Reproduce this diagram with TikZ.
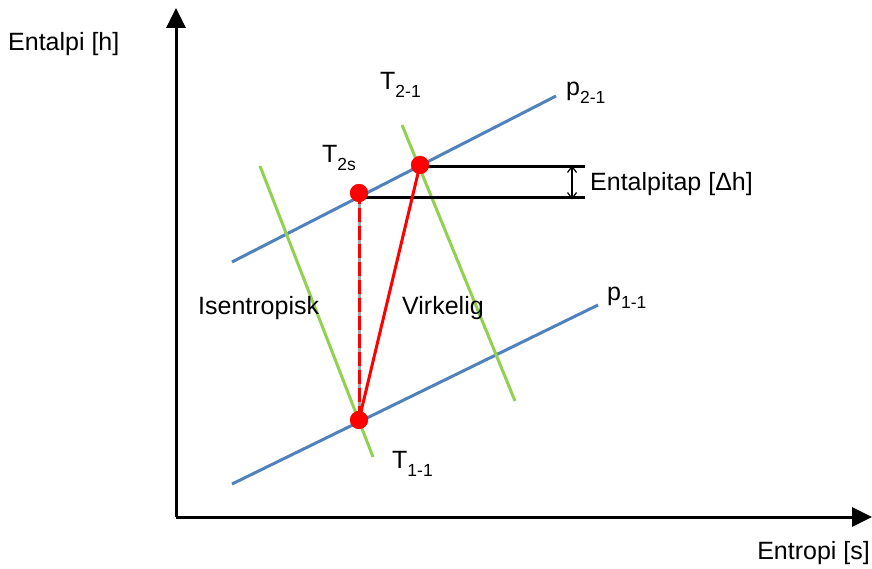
\documentclass[tikz,border=0pt]{standalone}
\usepackage{fontspec}
\setmainfont{Liberation Sans}
\usetikzlibrary{arrows.meta}
\definecolor{pblue}{RGB}{79,129,189}
\definecolor{tgreen}{RGB}{146,208,80}
\tikzset{
  lbl/.style={font=\fontsize{25}{29}\selectfont, inner sep=0pt},
  isobar/.style={draw=pblue, line width=3pt},
  isoterm/.style={draw=tgreen, line width=3pt},
  axis/.style={draw=black, line width=3pt, -{Triangle[length=20pt,width=19pt]}},
  level/.style={draw=black, line width=3pt},
  proc/.style={draw=red, line width=3pt},
  dot/.style={circle, fill=red, minimum size=18pt, inner sep=0pt},
}
\newcommand{\sub}[1]{\raisebox{-0.32em}{\fontsize{17.5}{17.5}\selectfont #1}}
\begin{document}
\begin{tikzpicture}[x=1pt,y=-1pt]
\useasboundingbox (0,0) rectangle (872,569);
% axes
\coordinate (O) at (176,517);
\coordinate (ytop) at (176,8);
\coordinate (xend) at (872,517);
\draw[axis] (O) -- (ytop);
\draw[axis] (O) -- (xend);
% isobars
\coordinate (p2a) at (232,262);
\coordinate (p2b) at (556,96);
\coordinate (p1a) at (232,484);
\coordinate (p1b) at (598,305);
\draw[isobar] (p2a) -- (p2b);
\draw[isobar] (p1a) -- (p1b);
% isotherms
\coordinate (t1a) at (260,166);
\coordinate (t1b) at (373,457);
\coordinate (t2a) at (402,125);
\coordinate (t2b) at (515,401);
\draw[isoterm] (t1a) -- (t1b);
\draw[isoterm] (t2a) -- (t2b);
% points
\node[dot] (A) at (359,420) {};
\node[dot] (S) at (359,193) {};
\node[dot] (R) at (420,165) {};
% enthalpy levels
\coordinate (Rend) at (585,167);
\coordinate (Send) at (585,198);
\draw[level] (R.center) ++(0,2) -- (Rend);
\draw[level] (359,198) -- (Send);
\coordinate (dA) at (572,167);
\coordinate (dB) at (572,198);
\draw[line width=1.2pt, {Straight Barb[length=6pt,width=9pt]}-{Straight Barb[length=6pt,width=9pt]}] ([yshift=1.5pt]dA) -- ([yshift=-1.5pt]dB);
% processes
\draw[draw=gray!70, line width=3pt] (A.center) -- (S.center);
\draw[proc, dash pattern=on 14pt off 4pt] (A.center) -- (S.center);
\draw[proc] (A.center) -- (R.center);
\node[dot] at (A.center) {};
\node[dot] at (S.center) {};
\node[dot] at (R.center) {};
% labels
\node[lbl, anchor=west] (ly) at (8,44) {Entalpi [h]};
\node[lbl, anchor=east] (lx) at (870,553) {Entropi [s]};
\node[lbl, anchor=west] (lT21) at (380,85) {T\sub{2-1}};
\node[lbl, anchor=west] (lp21) at (566,93) {p\sub{2-1}};
\node[lbl, anchor=west] (lT2s) at (322,158) {T\sub{2s}};
\node[lbl, anchor=west] (ldh) at (590,184) {Entalpitap [Δh]};
\node[lbl, anchor=west] (liso) at (198,308) {Isentropisk};
\node[lbl, anchor=west] (lvir) at (402,308) {Virkelig};
\node[lbl, anchor=west] (lp11) at (607,298) {p\sub{1-1}};
\node[lbl, anchor=west] (lT11) at (392,464) {T\sub{1-1}};
\end{tikzpicture}
\end{document}
